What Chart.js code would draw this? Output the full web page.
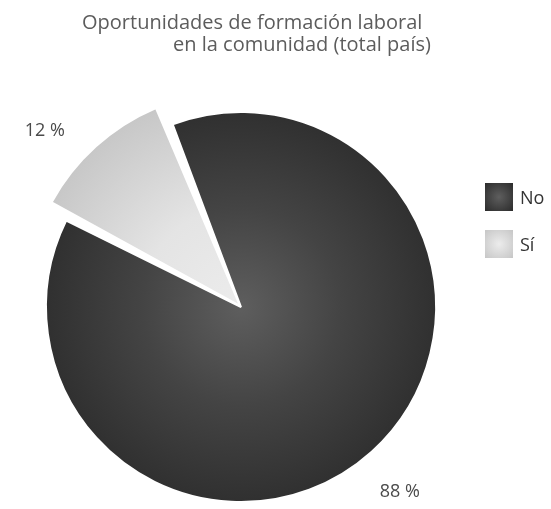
<!DOCTYPE html>
<html>
<head>
<meta charset="utf-8">
<script src="https://cdn.jsdelivr.net/npm/chart.js@4.4.1/dist/chart.umd.min.js"></script>
<style>
    html, body { margin: 0; padding: 0; background: #fff; }
    #wrap { position: relative; width: 551px; height: 509px; font-family: "Open Sans", sans-serif; overflow: hidden; }
    #pie { position: absolute; left: 0; top: 0; }
    .title { position: absolute; color: #5c5c5c; font-size: 20px; white-space: nowrap; }
    .legend-item { position: absolute; left: 485px; display: flex; align-items: center; }
    .legend-box { width: 28px; height: 28px; margin-right: 7px; }
    .legend-text { font-size: 18px; color: #333; }
</style>
</head>
<body>
<div id="wrap">
    <canvas id="pie" width="551" height="509"></canvas>
    <div class="title" style="left:82px; top:8px;">Oportunidades de formación laboral</div>
    <div class="title" style="left:173px; top:30px;">en la comunidad (total país)</div>
    <div id="legend"></div>
</div>
<script>
// --- DATA ---
const categories = ['No', 'Sí'];
const values = [88, 12];
const innerColors = ['#5e5e5e', '#ececec'];
const outerColors = ['#2b2b2b', '#c6c6c6'];

document.addEventListener('DOMContentLoaded', () => {
    // --- LEGEND (HTML) ---
    const legend = document.getElementById('legend');
    const legendTops = [183, 230];
    categories.forEach((cat, i) => {
        const item = document.createElement('div');
        item.className = 'legend-item';
        item.style.top = legendTops[i] + 'px';
        item.innerHTML = `<div class="legend-box" style="background: radial-gradient(circle, ${innerColors[i]} 0%, ${outerColors[i]} 100%);"></div><span class="legend-text">${cat}</span>`;
        legend.appendChild(item);
    });

    // gradient per slice, centred on the pie
    const sliceFill = (context) => {
        const chart = context.chart;
        const area = chart.chartArea;
        if (!area) return outerColors[context.dataIndex];
        const cx = (area.left + area.right) / 2;
        const cy = (area.top + area.bottom) / 2;
        const g = chart.ctx.createRadialGradient(cx, cy, 0, cx, cy, 220);
        const i = context.dataIndex;
        g.addColorStop(0, innerColors[i]);
        g.addColorStop(0.45, i === 0 ? '#444' : '#e4e4e4');
        g.addColorStop(1, outerColors[i]);
        return g;
    };

    // the "Sí" wedge is pulled out: a bit longer and a bit narrower than its gap
    const DEG = Math.PI / 180;
    const bigSlice = {
        id: 'bigSlice',
        afterDatasetsUpdate(chart) {
            const arc = chart.getDatasetMeta(0).data[1];
            arc.outerRadius = arc.outerRadius * 1.1;
            arc.startAngle += 2.5 * DEG;
            arc.endAngle -= 2.5 * DEG;
        }
    };

    // percent labels outside the slices
    const labelShift = [1.5, -6];
    const pctLabels = {
        id: 'pctLabels',
        afterDatasetsDraw(chart) {
            const c = chart.ctx;
            c.save();
            c.font = '18px "Open Sans"';
            c.fillStyle = '#4a4a4a';
            c.textAlign = 'center';
            c.textBaseline = 'middle';
            chart.getDatasetMeta(0).data.forEach((arc, i) => {
                const mid = (arc.startAngle + arc.endAngle) / 2 + labelShift[i] * DEG;
                const r = arc.outerRadius + 49;
                c.fillText(values[i] + ' %', arc.x + Math.cos(mid) * r, arc.y + Math.sin(mid) * r);
            });
            c.restore();
        }
    };

    new Chart(document.getElementById('pie').getContext('2d'), {
        type: 'pie',
        data: {
            labels: categories,
            datasets: [{
                data: values,
                backgroundColor: sliceFill,
                borderColor: '#fff',
                borderWidth: 2,
                offset: [0, 6]
            }]
        },
        options: {
            responsive: false,
            animation: false,
            rotation: -20.5,
            radius: 195,
            layout: { padding: { left: 0, right: 69, top: 105, bottom: 0 } },
            plugins: {
                legend: { display: false },
                tooltip: { enabled: false }
            }
        },
        plugins: [bigSlice, pctLabels]
    });
});
</script>
</body>
</html>
